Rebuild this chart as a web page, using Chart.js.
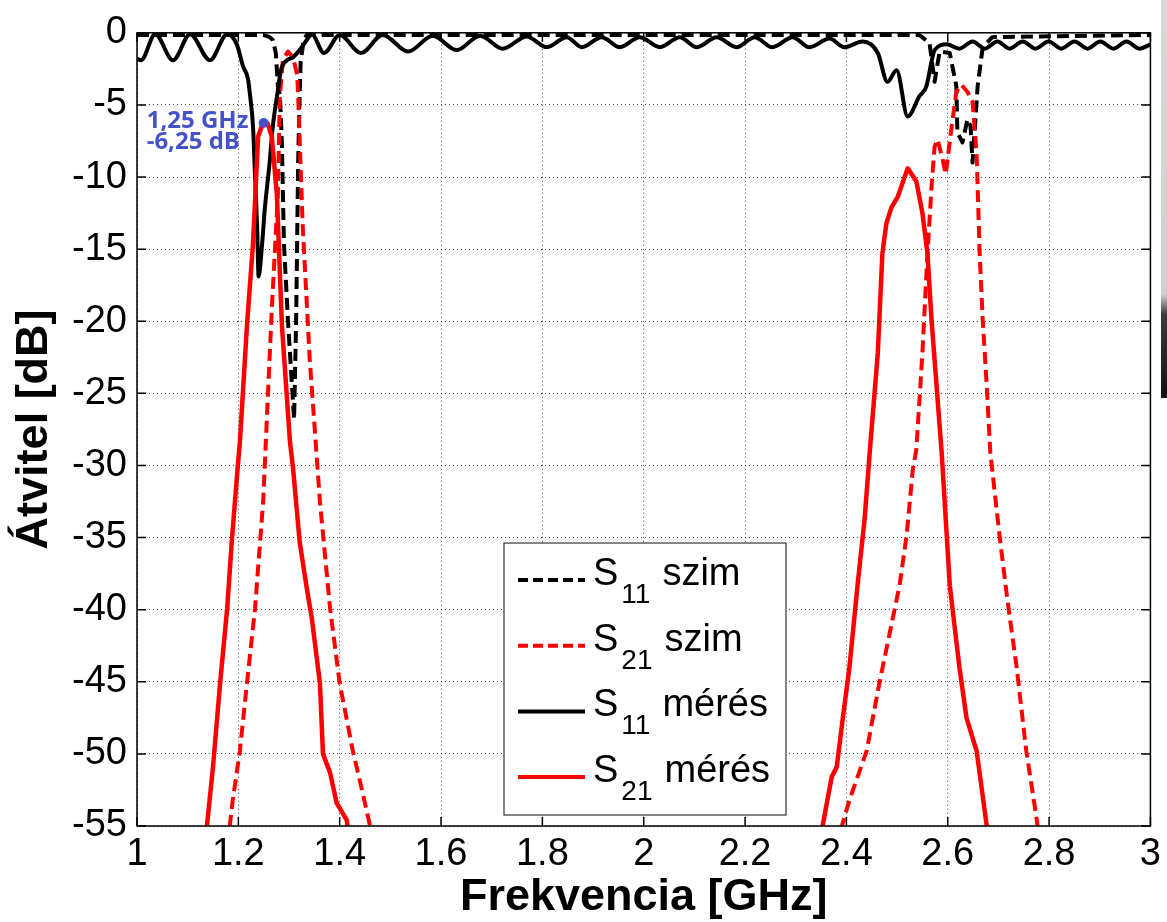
<!DOCTYPE html>
<html><head><meta charset="utf-8">
<script src="https://cdn.jsdelivr.net/npm/chart.js@4.4.0/dist/chart.umd.min.js"></script>
<style>
html,body{margin:0;padding:0;background:#fff;}
#wrap{position:relative;width:1167px;height:922px;overflow:hidden;}
#c{display:block;}
#strip{position:absolute;left:1161px;top:0;width:6px;height:398px;background:linear-gradient(#d6dbd4 0%,#cdd2cb 74%,#3a3a3a 79%,#111 100%);}
</style></head><body>
<div id="wrap"><canvas id="c" width="1167" height="922"></canvas><div id="strip"></div></div>
<script>
// ---- tick labels ----
const xTickLabels = ['1','1.2','1.4','1.6','1.8','2','2.2','2.4','2.6','2.8','3'];
const yTickLabels = ['-55','-50','-45','-40','-35','-30','-25','-20','-15','-10','-5','0'];

// ---- S11 szim (black dashed) ----
const s11SimF  = [1.000,1.249,1.262,1.268,1.274,1.278,1.282,1.286,1.288,1.290,1.298,1.310,1.314,1.316,1.318,1.321,1.323,1.329,1.335,
                  2.544,2.564,2.574,2.584,2.604,2.609,2.617,2.619,2.629,2.639,2.645,2.649,2.659,2.669,2.688,3.000];
const s11SimDb = [-0.15,-0.15,-0.3,-0.5,-1.4,-3.7,-4.3,-7.7,-11.2,-14.6,-20,-26.8,-20,-14.6,-9,-4.3,-2,-0.5,-0.15,
                  -0.15,-0.7,-3.4,-1.3,-1.4,-2.3,-3.7,-6.9,-7.6,-6.0,-6.5,-9.0,-3.7,-1.0,-0.3,-0.15];

// ---- S21 szim (red dashed), two pass bands ----
const s21SimF1  = [1.179,1.183,1.189,1.203,1.217,1.233,1.249,1.256,1.266,1.278,1.282,1.288,1.298,1.308,1.316,1.318,1.327,1.341,1.347,1.361,1.381,1.400,1.426,1.444,1.460,1.469];
const s21SimDb1 = [-56.3,-55,-53.2,-49.8,-45.1,-39.9,-32.5,-27,-19.2,-11.2,-4.3,-1.9,-1.3,-1.7,-2.9,-4.3,-13.4,-22.7,-25.6,-32.5,-39.9,-45.1,-49.8,-52.5,-55,-56.6];
const s21SimF2  = [2.386,2.391,2.406,2.440,2.465,2.485,2.505,2.519,2.531,2.538,2.550,2.560,2.568,2.574,2.580,2.590,2.596,2.607,2.617,2.627,2.639,2.649,2.657,2.663,2.669,2.677,2.684,2.702,2.718,2.736,2.755,2.775,2.781];
const s21SimDb2 = [-56.5,-55,-53.2,-49.8,-45.1,-41.7,-38.3,-34.8,-30.3,-28.9,-22.2,-15.3,-10.7,-7.9,-7.4,-8.8,-9.8,-6.7,-4.1,-3.6,-4.1,-4.8,-8.4,-15.3,-19.9,-24.5,-29.1,-34.8,-39.4,-44,-49.8,-54.4,-56];

// ---- S11 mérés (black solid) ----
const s11MeasF  = [1.000,1.008,1.036,1.071,1.105,1.144,1.178,1.197,1.209,1.219,1.223,1.229,1.233,1.237,1.240,1.247,1.252,1.262,1.268,1.278,1.284,1.296,1.308,1.321,1.335,1.345,
                   1.369,1.400,1.442,1.485,1.535,1.584,1.631,1.677,1.722,1.769,1.809,1.848,1.878,1.917,1.953,1.992,2.032,2.071,2.105,2.144,2.183,2.219,2.254,2.294,2.327,2.367,2.396,
                   2.432,2.462,2.481,2.499,2.521,2.544,2.558,2.568,2.574,2.598,2.623,2.649,2.673,2.698,2.722,2.748,2.773,2.799,2.824,2.850,2.876,2.901,2.927,2.953,2.978,3.000];
const s11MeasDb = [-1.8,-1.9,-0.1,-1.9,-0.1,-1.9,-0.1,-0.8,-2.3,-3.2,-4.3,-6.5,-10,-13.4,-16.9,-14.6,-12.3,-8.9,-6.5,-4.0,-2.6,-1.9,-1.7,-1.2,-0.5,-0.1,
                   -1.4,-0.15,-1.4,-0.15,-1.3,-0.2,-1.2,-0.2,-1.1,-0.25,-1.0,-0.3,-1.0,-0.3,-1.0,-0.3,-1.0,-0.3,-1.0,-0.3,-1.0,-0.3,-1.0,-0.3,-1.0,-0.4,-1.0,
                   -0.6,-1.4,-3.4,-2.6,-5.8,-4.4,-3.7,-2.0,-1.2,-0.8,-1.1,-0.6,-1.1,-0.6,-1.1,-0.6,-1.1,-0.6,-1.1,-0.6,-1.1,-0.6,-1.1,-0.6,-1.1,-0.8];

// ---- S21 mérés (red solid), two pass bands ----
const s21MeasF1  = [1.134,1.138,1.150,1.164,1.178,1.187,1.199,1.203,1.217,1.229,1.239,1.247,1.252,1.258,1.266,1.276,1.286,1.302,1.308,1.321,1.335,1.345,1.361,1.367,1.381,1.394,1.414,1.420];
const s21MeasDb1 = [-56.6,-55,-50.9,-45.1,-39.9,-35.3,-30,-28.4,-20.3,-14.6,-7.2,-6.4,-6.2,-6.3,-7.2,-11.2,-20.3,-28.4,-30.2,-35.3,-38.5,-40.6,-45.1,-50,-51.3,-53.4,-54.6,-56.6];
const s21MeasF2  = [2.349,2.353,2.371,2.381,2.393,2.406,2.422,2.436,2.446,2.462,2.471,2.479,2.489,2.501,2.521,2.538,2.550,2.560,2.568,2.578,2.588,2.604,2.623,2.637,2.657,2.677,2.680];
const s21MeasDb2 = [-56.6,-55,-51.6,-50.9,-47.5,-44,-38.3,-33.7,-29.1,-22.2,-15.3,-13.2,-12.1,-11.4,-9.4,-10.3,-12.5,-15.3,-19.9,-24.5,-29.1,-38.3,-44,-47.5,-49.8,-55,-56.3];

// ---- marker annotation ----
const markerF = [1.25];
const markerDb = [-6.25];
const markerText = ['1,25 GHz', '-6,25 dB'];

// ---- legend ----
const legendSub = ['11','21','11','21'];
const legendName = ['szim','szim','mérés','mérés'];

const zip = (f, d) => f.map((v, i) => ({x: v, y: d[i]}));
const gap = (f) => ({x: f, y: null});

const FONT = '"Liberation Sans", Arial, Helvetica, sans-serif';
const RED = '#ff0000', BLACK = '#000000', BLUE = '#4653c8';
const DASH = [12, 6];

const dsS11Sim = {label: 'S11 szim', data: zip(s11SimF, s11SimDb), borderColor: BLACK, borderDash: DASH, borderWidth: 4};
const dsS21Sim = {label: 'S21 szim', data: [...zip(s21SimF1, s21SimDb1), gap(2.0), ...zip(s21SimF2, s21SimDb2)], borderColor: RED, borderDash: DASH, borderWidth: 4};
const dsS11Meas = {label: 'S11 mérés', data: zip(s11MeasF, s11MeasDb), borderColor: BLACK, borderWidth: 4, cubicInterpolationMode: 'monotone'};
const dsS21Meas = {label: 'S21 mérés', data: [...zip(s21MeasF1, s21MeasDb1), gap(2.0), ...zip(s21MeasF2, s21MeasDb2)], borderColor: RED, borderWidth: 4.5};
const dsMarker = {label: 'marker', data: zip(markerF, markerDb), showLine: false, pointRadius: 5, pointBackgroundColor: BLUE, pointBorderWidth: 0, borderColor: BLUE};

const legendStyles = [
  {color: BLACK, dash: [10, 5]},
  {color: RED, dash: [10, 5]},
  {color: BLACK, dash: []},
  {color: RED, dash: []}
];

const overlay = {
  id: 'overlay',
  afterDatasetsDraw(chart) {
    const {ctx, chartArea: a, scales: {x, y}} = chart;
    ctx.save();
    // frame with inward ticks
    ctx.strokeStyle = '#000'; ctx.lineWidth = 1.5; ctx.setLineDash([]);
    ctx.strokeRect(a.left, a.top, a.right - a.left, a.bottom - a.top);
    const L = 9;
    ctx.beginPath();
    x.ticks.forEach(t => { const p = x.getPixelForValue(t.value);
      ctx.moveTo(p, a.bottom); ctx.lineTo(p, a.bottom - L);
      ctx.moveTo(p, a.top); ctx.lineTo(p, a.top + L); });
    y.ticks.forEach(t => { const p = y.getPixelForValue(t.value);
      ctx.moveTo(a.left, p); ctx.lineTo(a.left + L, p);
      ctx.moveTo(a.right, p); ctx.lineTo(a.right - L, p); });
    ctx.stroke();

    // marker annotation text
    const mx = x.getPixelForValue(markerF[0]), my = y.getPixelForValue(markerDb[0]);
    ctx.fillStyle = BLUE;
    ctx.font = 'bold 24px "Open Sans", ' + FONT;
    ctx.textAlign = 'left'; ctx.textBaseline = 'alphabetic';
    ctx.fillText(markerText[0], mx - 117, my + 5);
    ctx.fillText(markerText[1], mx - 117, my + 26);

    // legend box
    const bx = 504, by = 543, bw = 282, bh = 272;
    ctx.fillStyle = '#fff';
    ctx.fillRect(bx, by, bw, bh);
    ctx.strokeStyle = '#333'; ctx.lineWidth = 1.2;
    ctx.strokeRect(bx, by, bw, bh);
    for (let i = 0; i < 4; i++) {
      const ly = by + 37 + i * 65.7;
      ctx.beginPath();
      ctx.strokeStyle = legendStyles[i].color; ctx.lineWidth = 4;
      ctx.setLineDash(legendStyles[i].dash);
      ctx.moveTo(bx + 14, ly); ctx.lineTo(bx + 81, ly);
      ctx.stroke();
      ctx.setLineDash([]);
      ctx.fillStyle = '#000';
      let tx = bx + 89;
      ctx.font = '38px ' + FONT;
      ctx.fillText('S', tx, ly + 5);
      tx += ctx.measureText('S').width + 3;
      ctx.font = '28px ' + FONT;
      ctx.fillText(legendSub[i], tx, ly + 23);
      tx += ctx.measureText(legendSub[i]).width + 12;
      ctx.font = '38px ' + FONT;
      ctx.fillText(legendName[i], tx, ly + 5);
    }
    ctx.restore();
  }
};

new Chart(document.getElementById('c'), {
  type: 'line',
  data: {datasets: [dsMarker, dsS21Meas, dsS11Meas, dsS21Sim, dsS11Sim]},
  options: {
    responsive: false, animation: false, devicePixelRatio: 1,
    layout: {padding: {top: 28, right: 16, left: 0, bottom: 0}},
    elements: {point: {radius: 0}, line: {tension: 0, borderJoinStyle: 'round', borderCapStyle: 'butt'}},
    plugins: {legend: {display: false}, tooltip: {enabled: false}},
    scales: {
      x: {
        type: 'linear', min: 1, max: 3,
        afterFit: s => { s.height = 96; },
        ticks: {stepSize: 0.2, autoSkip: false, maxRotation: 0, padding: 6, color: '#000',
                font: {family: FONT, size: 38}, callback: (v, i) => xTickLabels[i]},
        grid: {color: '#444', lineWidth: 1, drawTicks: false},
        border: {display: false, dash: [1, 3]},
        title: {display: true, text: 'Frekvencia [GHz]', color: '#000',
                font: {family: FONT, size: 45, weight: 'bold', lineHeight: 1}, padding: {top: 0, bottom: 2}}
      },
      y: {
        type: 'linear', min: -55, max: 0,
        afterFit: s => { s.width = 137; },
        ticks: {stepSize: 5, autoSkip: false, padding: 10, color: '#000',
                font: {family: FONT, size: 38}, callback: (v, i) => yTickLabels[i]},
        grid: {color: '#444', lineWidth: 1, drawTicks: false},
        border: {display: false, dash: [1, 3]},
        title: {display: true, text: 'Átvitel [dB]', color: '#000',
                font: {family: FONT, size: 45, weight: 'bold', lineHeight: 1}, padding: {top: 12, bottom: 0}}
      }
    }
  },
  plugins: [overlay]
});
</script>
</body></html>
